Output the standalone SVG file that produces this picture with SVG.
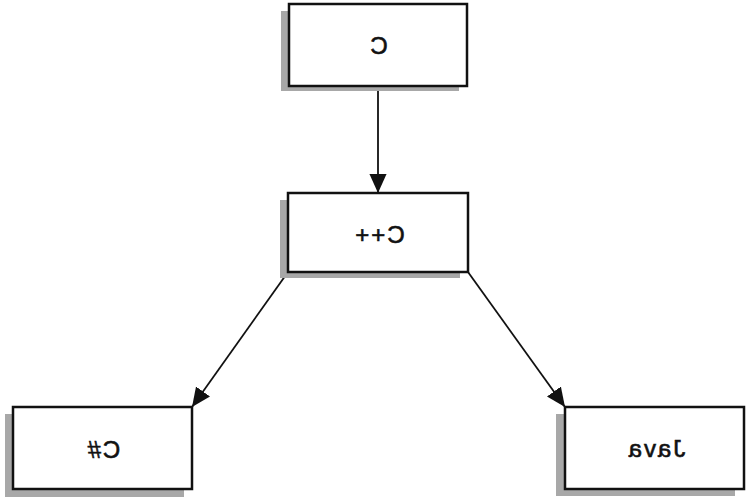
<svg xmlns="http://www.w3.org/2000/svg" width="750" height="500" viewBox="0 0 750 500">
<style>
.shadow{fill:#a8a8a8}
.box{fill:#fff;stroke:#111;stroke-width:2.5}
.lbl{font-family:"Liberation Sans",Arial,sans-serif;font-size:24px;fill:#111;stroke:#111;stroke-width:0.6;text-anchor:middle;letter-spacing:2px}
.edge{stroke:#111;stroke-width:1.8;fill:none}
</style>
<defs>
<marker id="ahv" viewBox="0 0 10 10" refX="10" refY="5" markerWidth="19" markerHeight="19" markerUnits="userSpaceOnUse" orient="auto">
<path d="M0,0.5 L10,5 L0,9.5 z" fill="#111"/>
</marker>
</defs>
<g id="connectors">
<line class="edge" x1="378" y1="86" x2="378" y2="193" marker-end="url(#ahv)"/>
<line class="edge" x1="288" y1="272" x2="192" y2="407" marker-end="url(#ahv)"/>
<line class="edge" x1="468" y1="272" x2="565" y2="407" marker-end="url(#ahv)"/>
</g>
<g id="node-c">
<rect class="shadow" x="281" y="11" width="178" height="80"/>
<rect class="box" x="289" y="4" width="178" height="82"/>
<text class="lbl" transform="translate(378,54) scale(-1,1)" x="0" y="0">C</text>
</g>
<g id="node-cpp">
<rect class="shadow" x="280" y="200" width="180" height="78"/>
<rect class="box" x="288" y="193" width="180" height="79"/>
<text class="lbl" transform="translate(379,243) scale(-1,1)" x="0" y="0">C++</text>
</g>
<g id="node-csharp">
<rect class="shadow" x="5" y="414" width="179" height="83"/>
<rect class="box" x="13" y="407" width="179" height="82"/>
<text class="lbl" transform="translate(103,458) scale(-1,1)" x="0" y="0">C#</text>
</g>
<g id="node-java">
<rect class="shadow" x="556" y="414" width="179" height="82"/>
<rect class="box" x="565" y="407" width="179" height="82"/>
<text class="lbl" transform="translate(656,457) scale(-1,1)" x="0" y="0">Java</text>
</g>
</svg>
